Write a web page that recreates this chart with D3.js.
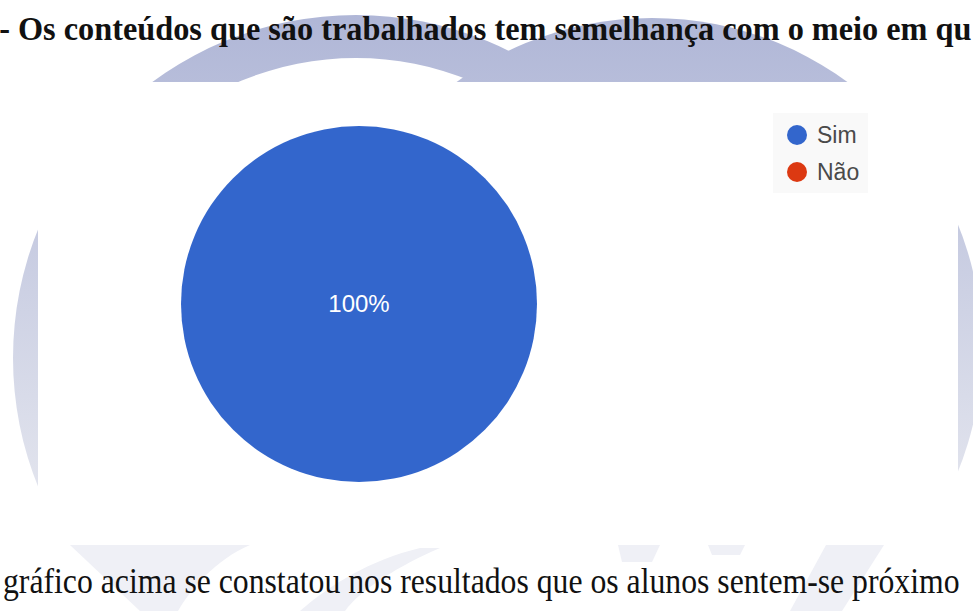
<!DOCTYPE html>
<html>
<head>
<meta charset="utf-8">
<script src="https://cdn.jsdelivr.net/npm/d3@7"></script>
<style>
  html, body { margin: 0; padding: 0; background: #ffffff; }
  svg { display: block; }
</style>
</head>
<body>
<svg id="page" width="973" height="611"></svg>
<script>
// Survey answers for question 7
const categories = ["Sim", "Não"];
const values = [100, 0];
const sliceColors = ["#3366cc", "#dc3912"];

const titleText = "7 - Os conteúdos que são trabalhados tem semelhança com o meio em qu";
const bodyText = "gráfico acima se constatou nos resultados que os alunos sentem-se próximo";

const W = 973, H = 611;
const svg = d3.select("#page");
const defs = svg.append("defs");

// ---- page watermark (background logo) ----
const grad = defs.append("linearGradient")
  .attr("id", "wm").attr("gradientUnits", "userSpaceOnUse")
  .attr("x1", 0).attr("y1", 0).attr("x2", 0).attr("y2", 500);
grad.append("stop").attr("offset", 0).attr("stop-color", "#aeb5d6");
grad.append("stop").attr("offset", 1).attr("stop-color", "#e3e5ee");

defs.append("clipPath").attr("id", "wmClip")
  .append("rect").attr("x", 0).attr("y", 0).attr("width", W).attr("height", 491);

const wm = svg.append("g").attr("fill", "url(#wm)").attr("clip-path", "url(#wmClip)");
// left ring
const ring = d3.path();
ring.arc(356, 358, 343, 0, 2 * Math.PI);
ring.moveTo(356 + 300, 358);
ring.arc(356, 358, 300, 0, 2 * Math.PI, true);
wm.append("path").attr("d", ring.toString()).attr("fill-rule", "evenodd");
// right disc
wm.append("circle").attr("cx", 652).attr("cy", 348).attr("r", 330);

// faint lower shapes
const low = svg.append("g").attr("fill", "#eff0f6");
low.append("path").attr("d", "M70,545 L250,545 C215,560 190,590 178,611 L140,611 Z");
low.append("path").attr("d", "M300,611 C330,585 370,560 420,548 L440,548 C400,565 360,590 345,611 Z");
low.append("path").attr("d", "M618,545 L660,545 L652,562 L622,562 Z");
low.append("path").attr("d", "M708,545 L745,545 L740,555 L712,555 Z");
low.append("path").attr("d", "M826,545 L884,545 L842,611 L790,611 Z");

// ---- chart panel ----
const panel = { x: 38, y: 82, w: 920, h: 410 };
svg.append("rect")
  .attr("x", panel.x).attr("y", panel.y)
  .attr("width", panel.w).attr("height", panel.h)
  .attr("fill", "#ffffff");

const color = d3.scaleOrdinal().domain(categories).range(sliceColors);
const total = d3.sum(values);
const pct = d3.format(".0%");

const cx = 359, cy = 304, radius = 178;
const pie = d3.pie().sort(null).value(d => d.value);
const arcs = pie(categories.map((c, i) => ({ key: c, value: values[i] })));
const arcGen = d3.arc().innerRadius(0).outerRadius(radius);

const pieG = svg.append("g").attr("transform", `translate(${cx},${cy})`);
pieG.selectAll("path.slice")
  .data(arcs.filter(a => a.data.value > 0))
  .join("path")
  .attr("class", "slice")
  .attr("d", arcGen)
  .attr("fill", d => color(d.data.key));

pieG.selectAll("text.lbl")
  .data(arcs.filter(a => a.data.value > 0))
  .join("text")
  .attr("class", "lbl")
  .attr("transform", d => {
    const full = (d.endAngle - d.startAngle) >= 2 * Math.PI - 1e-6;
    const p = full ? [0, 0] : d3.arc().innerRadius(radius * 0.5).outerRadius(radius).centroid(d);
    return `translate(${p[0]},${p[1]})`;
  })
  .attr("text-anchor", "middle")
  .attr("dy", "0.35em")
  .attr("font-family", "'Liberation Sans', Arial, sans-serif")
  .attr("font-size", 24)
  .attr("fill", "#ffffff")
  .text(d => pct(d.data.value / total));

// legend
const legend = svg.append("g");
legend.append("rect")
  .attr("x", 773).attr("y", 113).attr("width", 95).attr("height", 80)
  .attr("fill", "#f9f9f9");
const rows = legend.selectAll("g.row")
  .data(categories)
  .join("g")
  .attr("class", "row")
  .attr("transform", (d, i) => `translate(797,${135 + i * 37})`);
rows.append("circle").attr("r", 10).attr("fill", d => color(d));
rows.append("text")
  .attr("x", 20).attr("dy", "0.36em")
  .attr("font-family", "'Liberation Sans', Arial, sans-serif")
  .attr("font-size", 23)
  .attr("fill", "#4a4a4a")
  .text(d => d);

// ---- document text ----
function fitText(str, opts) {
  const t = svg.append("text")
    .attr("font-family", "'Liberation Serif', 'Times New Roman', serif")
    .attr("font-size", opts.size)
    .attr("font-weight", opts.weight)
    .attr("fill", "#111111")
    .text(str);
  const node = t.node();
  const full = node.getComputedTextLength();
  const off = opts.skip ? node.getSubStringLength(0, opts.skip) : 0;
  const s = (opts.x1 - opts.x0) / (full - off);
  const x = opts.x0 - off * s;
  t.attr("transform", `translate(${x},${opts.y}) scale(${s},1)`);
  return t;
}

fitText(titleText, { size: 33, weight: "bold", y: 40, x0: 18, x1: 972, skip: 4 });
fitText(bodyText, { size: 35, weight: "normal", y: 593, x0: 3, x1: 960, skip: 0 });
</script>
</body>
</html>
